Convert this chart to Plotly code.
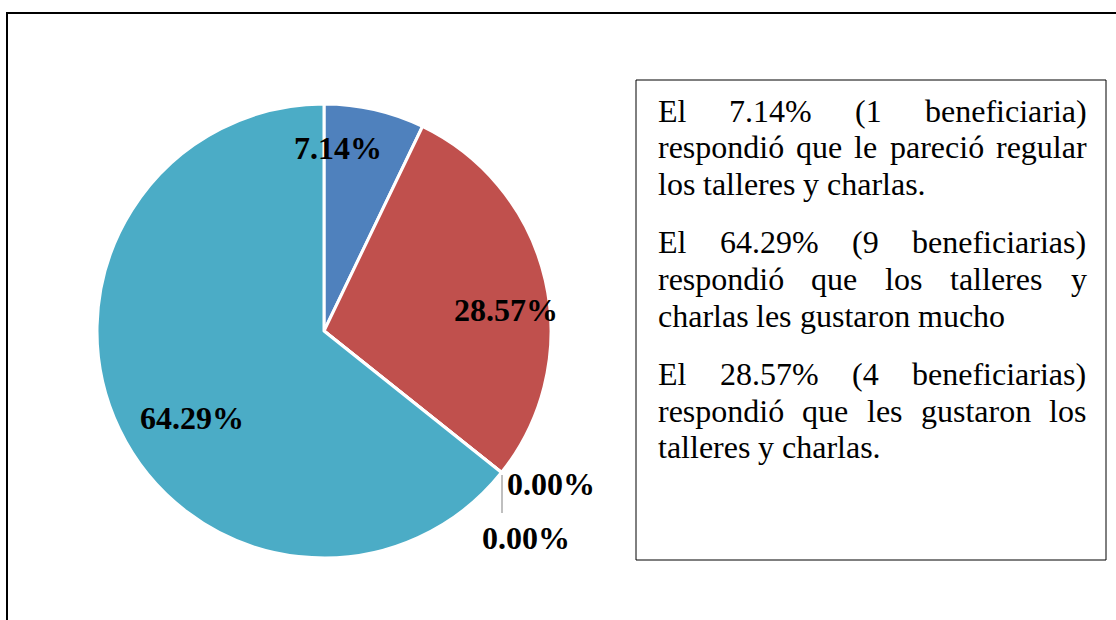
import plotly.graph_objects as go

# ---------------- data ----------------
categories = ["Regular", "Les gustaron", "Poco", "Nada", "Les gustaron mucho"]
counts = [1, 4, 0, 0, 9]
colors = ["#4F81BD", "#C0504D", "#9BBB59", "#8064A2", "#4BACC6"]
total = sum(counts)
pct_labels = [f"{100 * c / total:.2f}%" for c in counts]

paragraphs = [
    ["El 7.14% (1 beneficiaria)", "respondió que le pareció regular", "los talleres y charlas."],
    ["El 64.29% (9 beneficiarias)", "respondió que los talleres y", "charlas les gustaron mucho"],
    ["El 28.57% (4 beneficiarias)", "respondió que les gustaron los", "talleres y charlas."],
]

# ---------------- layout constants (pixels) ----------------
W, H = 1116, 620
CX, CY, R = 324, 331, 227
label_px = [(337.5, 148), (506, 310), (551, 484), (525.5, 538), (191.5, 418)]
BODY_FONT = 32
LABEL_FONT = 32
TEXT_LEFT, TEXT_RIGHT = 656.5, 1085.5
line_centers = [[110.5, 147.3, 184.0], [242.3, 279.0, 315.7], [374.0, 410.7, 447.3]]


def px(x):
    return x / W


def py(y):
    return 1 - y / H


# Times / Liberation Serif advance widths (per em)
TW = {
    " ": .25, "E": .611, "l": .278, "7": .5, ".": .25, "1": .5, "4": .5, "%": .833,
    "(": .333, ")": .333, "b": .5, "e": .444, "n": .5, "f": .333, "i": .278, "c": .444,
    "a": .444, "r": .333, "s": .389, "p": .5, "o": .5, "d": .5, "ó": .5, "q": .5,
    "u": .5, "g": .5, "t": .278, "y": .5, "h": .5, "6": .5, "2": .5, "9": .5, "8": .5,
    "5": .5, "m": .778,
}


def tw(s):
    return sum(TW.get(ch, .5) for ch in s) * BODY_FONT


fig = go.Figure()
fig.add_trace(go.Pie(
    labels=categories,
    values=counts,
    sort=False,
    direction="clockwise",
    rotation=0,
    marker=dict(colors=colors, line=dict(color="white", width=3)),
    textinfo="none",
    hoverinfo="label+percent",
    domain=dict(x=[px(CX - R), px(CX + R)], y=[py(CY + R), py(CY - R)]),
    showlegend=False,
))

annotations = []
# percentage labels
for (lx, ly), txt in zip(label_px, pct_labels):
    annotations.append(dict(
        x=px(lx), y=py(ly), xref="paper", yref="paper", xanchor="center", yanchor="middle",
        text=f"<b>{txt}</b>", showarrow=False, borderpad=0,
        font=dict(family="Liberation Serif, Times New Roman, serif", size=LABEL_FONT, color="black"),
    ))

# justified paragraph text
for para, centers in zip(paragraphs, line_centers):
    for i, (line, yc) in enumerate(zip(para, centers)):
        words = line.split(" ")
        last = i == len(para) - 1
        if last or len(words) == 1:
            positions = [TEXT_LEFT]
            for w in words[:-1]:
                positions.append(positions[-1] + tw(w) + tw(" "))
        else:
            widths = [tw(w) for w in words]
            gap = (TEXT_RIGHT - TEXT_LEFT - sum(widths)) / (len(words) - 1)
            positions = [TEXT_LEFT]
            for w in widths[:-1]:
                positions.append(positions[-1] + w + gap)
        for w, xpos in zip(words, positions):
            annotations.append(dict(
                x=px(xpos), y=py(yc), xref="paper", yref="paper", xanchor="left", yanchor="middle",
                text=w, showarrow=False, borderpad=0,
                font=dict(family="Liberation Serif, Times New Roman, serif", size=BODY_FONT, color="black"),
            ))

shapes = [
    # outer chart border (extends beyond the window)
    dict(type="rect", xref="paper", yref="paper", x0=px(7), x1=px(W + 20), y0=py(H + 20), y1=py(13),
         line=dict(color="black", width=2), fillcolor="rgba(0,0,0,0)"),
    # text box
    dict(type="rect", xref="paper", yref="paper", x0=px(636), x1=px(1106), y0=py(560), y1=py(80),
         line=dict(color="black", width=1), fillcolor="rgba(0,0,0,0)"),
    # leader line for the zero slices
    dict(type="line", xref="paper", yref="paper", x0=px(502), x1=px(502), y0=py(475), y1=py(513),
         line=dict(color="#BFBFBF", width=2)),
]

fig.update_layout(
    width=W, height=H,
    margin=dict(l=0, r=0, t=0, b=0),
    paper_bgcolor="white", plot_bgcolor="white",
    annotations=annotations,
    shapes=shapes,
    showlegend=False,
)

fig.write_html(
    "out.html",
    config={"displayModeBar": False},
    post_script="document.body.style.margin='0px';document.body.style.overflow='hidden';",
)
